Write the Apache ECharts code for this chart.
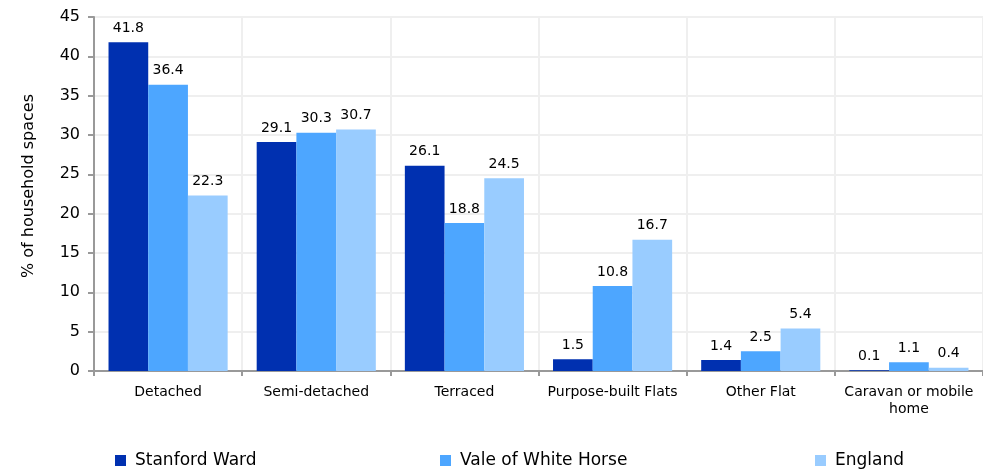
<!DOCTYPE html>
<html>
<head>
<meta charset="utf-8">
<script src="https://cdn.jsdelivr.net/npm/echarts@6/dist/echarts.min.js"></script>
<style>
  html, body { margin: 0; padding: 0; background: #fff; }
  #chart { width: 983px; height: 472px; }
</style>
</head>
<body>
<div id="chart"></div>
<script>
// Household spaces by accommodation type (%)
const categories = ['Detached', 'Semi-detached', 'Terraced', 'Purpose-built Flats', 'Other Flat', 'Caravan or mobile\nhome'];
const stanfordWard = [41.8, 29.1, 26.1, 1.5, 1.4, 0.1];
const valeOfWhiteHorse = [36.4, 30.3, 18.8, 10.8, 2.5, 1.1];
const england = [22.3, 30.7, 24.5, 16.7, 5.4, 0.4];
const seriesNames = ['Stanford Ward', 'Vale of White Horse', 'England'];
const colors = ['#0030B0', '#4DA6FF', '#99CCFF'];

const FONT = '"DejaVu Sans", "Liberation Sans", Arial, sans-serif';
const chart = echarts.init(document.getElementById('chart'));

const label = {
  show: true, position: 'top', distance: 7,
  fontFamily: FONT, fontSize: 14, color: '#000',
  formatter: p => p.value.toFixed(1)
};

function bar(name, data, i) {
  return {
    name, type: 'bar', data,
    barGap: '0%', barCategoryGap: '19.6%',
    itemStyle: { color: colors[i] },
    label
  };
}

function legendAt(name, left) {
  return {
    data: [name], left, top: 452, padding: 0,
    itemWidth: 11, itemHeight: 11, icon: 'rect', itemGap: 8,
    textStyle: { fontFamily: FONT, fontSize: 17, color: '#000', padding: [0, 0, 0, 4] }
  };
}

chart.setOption({
  animation: false,
  backgroundColor: '#fff',
  grid: { left: 94, right: 0, top: 17, bottom: 101, containLabel: false },
  legend: [
    legendAt(seriesNames[0], 115),
    legendAt(seriesNames[1], 440),
    legendAt(seriesNames[2], 815)
  ],
  xAxis: {
    type: 'category', data: categories,
    axisLine: { lineStyle: { color: '#999', width: 2 } },
    axisTick: { show: true, length: 5, lineStyle: { color: '#999', width: 2 } },
    splitLine: { show: true, lineStyle: { color: '#efefef', width: 2 } },
    axisLabel: { fontFamily: FONT, fontSize: 14, color: '#000', margin: 13, lineHeight: 17, interval: 0 }
  },
  yAxis: {
    type: 'value', min: 0, max: 45, interval: 5,
    name: '% of household spaces', nameLocation: 'middle', nameGap: 57, nameRotate: 90,
    nameTextStyle: { fontFamily: FONT, fontSize: 16, color: '#000', padding: [0, 0, 0, 16] },
    axisLine: { show: true, lineStyle: { color: '#999', width: 2 } },
    axisTick: { show: true, length: 6, lineStyle: { color: '#999', width: 2 } },
    splitLine: { show: true, lineStyle: { color: '#efefef', width: 2 } },
    axisLabel: { fontFamily: FONT, fontSize: 16, color: '#000', margin: 14 }
  },
  series: [
    bar(seriesNames[0], stanfordWard, 0),
    bar(seriesNames[1], valeOfWhiteHorse, 1),
    bar(seriesNames[2], england, 2)
  ]
});
</script>
</body>
</html>
